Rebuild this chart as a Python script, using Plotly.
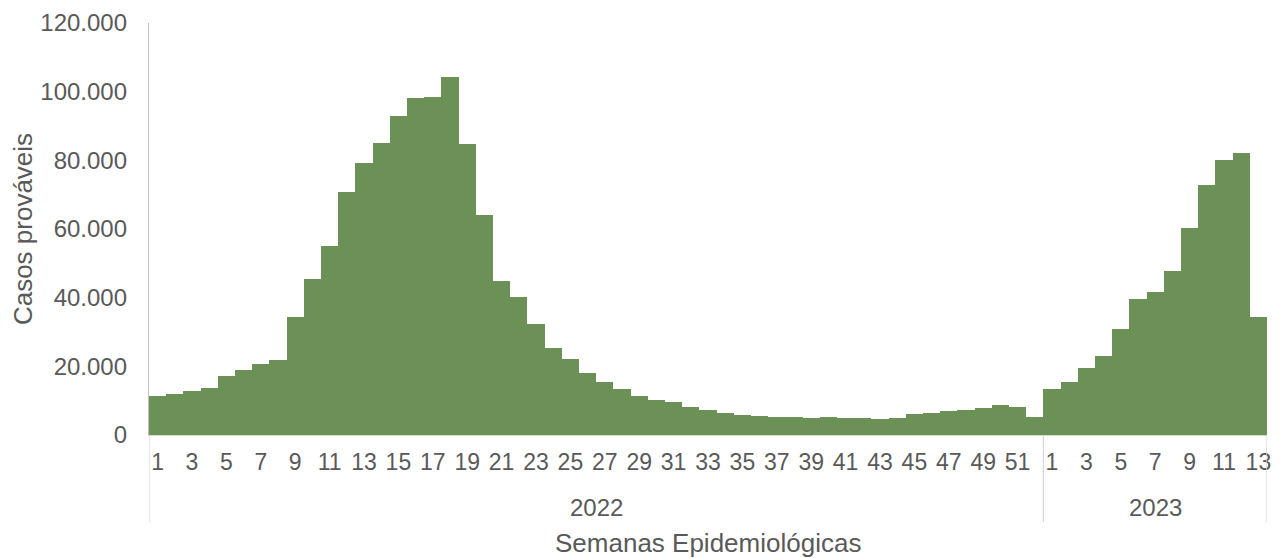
import plotly.graph_objects as go

weeks_2022 = list(range(1, 53))
weeks_2023 = list(range(1, 14))
cases_2022 = [11500, 11900, 12800, 13600, 17100, 19000, 20800, 21800, 34400, 45300,
              55100, 70700, 79300, 85000, 92800, 98300, 98400, 104200, 84700, 64200,
              45000, 40300, 32400, 25200, 22200, 18200, 15300, 13400, 11400, 10200,
              9600, 8100, 7200, 6300, 5700, 5500, 5300, 5100, 4900, 5100,
              4900, 5000, 4700, 5000, 6000, 6500, 7000, 7300, 8000, 8800,
              8200, 5300]
cases_2023 = [13400, 15300, 19600, 23100, 30900, 39600, 41600, 47800, 60200, 72700,
              80200, 82000, 34400]
years = ["2022", "2023"]
x_title = "Semanas Epidemiológicas"
y_title = "Casos prováveis"

weeks = weeks_2022 + weeks_2023
cases = cases_2022 + cases_2023
pos = list(range(len(weeks)))

tickvals = [p for p, w in zip(pos, weeks) if w % 2 == 1]
ticktext = [str(w) for w in weeks if w % 2 == 1]

grey = "#595959"
font = "Liberation Sans, Arial, sans-serif"

fig = go.Figure(go.Bar(x=pos, y=cases, marker=dict(color="#6b9157", line=dict(width=0)),
                       width=1.0, hovertemplate="%{y}<extra></extra>"))

n22 = len(weeks_2022)
n23 = len(weeks_2023)
bounds = [-0.5, n22 - 0.5, n22 + n23 - 0.5]
for b in bounds:
    fig.add_shape(type="line", xref="x", yref="paper", x0=b, x1=b, y0=0, y1=-0.211,
                  line=dict(color="#d9d9d9", width=1.3))
centers = [(bounds[0] + bounds[1]) / 2, (bounds[1] + bounds[2]) / 2]
for c, yr in zip(centers, years):
    fig.add_annotation(x=c, y=-0.175, xref="x", yref="paper", text=yr, showarrow=False,
                       font=dict(size=24, color=grey, family=font), yanchor="middle")

# x-axis title placed below the year row
fig.add_annotation(x=0.5, y=-0.262, xref="paper", yref="paper", text=x_title, showarrow=False,
                   font=dict(size=26, color=grey, family=font), yanchor="middle")

# page body has an 8px margin, so the figure is offset accordingly
fig.update_layout(
    width=1266, height=550,
    margin=dict(l=141, r=7, t=15, b=123, autoexpand=False),
    plot_bgcolor="white", paper_bgcolor="white",
    separators=",.",
    bargap=0,
    showlegend=False,
    font=dict(family=font, color=grey, size=23),
    xaxis=dict(range=[-0.5, n22 + n23 - 0.5], tickvals=tickvals, ticktext=ticktext,
               automargin=False,
               showgrid=False, zeroline=False, showline=True, linecolor="#d9d9d9", linewidth=1.3,
               ticks="", ticklabelstandoff=6, tickangle=0,
               tickfont=dict(size=23, color=grey)),
    yaxis=dict(range=[0, 120000], tickvals=[0, 20000, 40000, 60000, 80000, 100000, 120000],
               automargin=False,
               tickformat=",d", showgrid=False, zeroline=False, showline=True,
               linecolor="#bfbfbf", linewidth=1.3, ticks="", ticklabelstandoff=16,
               tickfont=dict(size=24, color=grey),
               title=dict(text=y_title, standoff=7, font=dict(size=26, color=grey))),
)

fig.write_html("out.html")
